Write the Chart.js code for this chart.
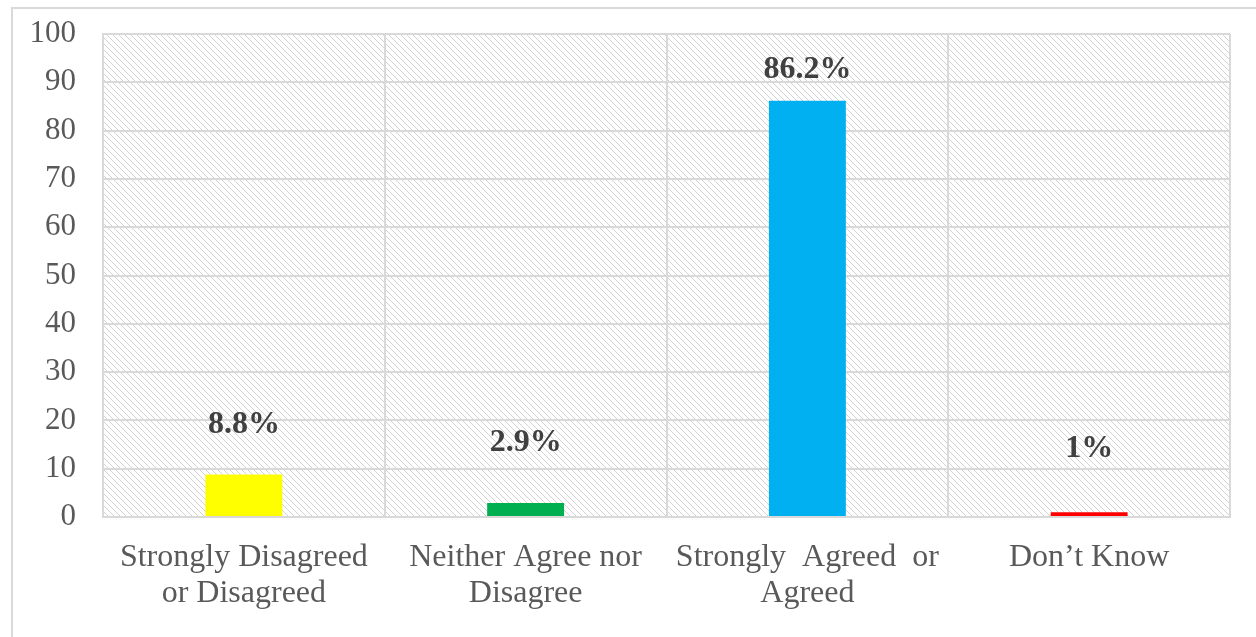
<!DOCTYPE html>
<html>
<head>
<meta charset="utf-8">
<script src="https://cdn.jsdelivr.net/npm/chart.js@4/dist/chart.umd.min.js"></script>
<style>
  html, body { margin: 0; padding: 0; background: #fff; overflow: hidden; }
  #wrap { position: relative; width: 1256px; height: 637px; }
  #frame { position: absolute; left: 11px; top: 7px; width: 1300px; height: 700px; border: 2px solid #d9d9d9; box-sizing: border-box; }
  canvas { position: absolute; left: 0; top: 0; }
</style>
</head>
<body>
<div id="wrap">
  <div id="frame"></div>
  <canvas id="c" width="1256" height="637"></canvas>
</div>
<script>
const categories = [
  ['Strongly Disagreed', 'or Disagreed'],
  ['Neither Agree nor', 'Disagree'],
  ['Strongly  Agreed  or', 'Agreed'],
  ["Don\u2019t Know"]
];
const values = [8.8, 2.9, 86.2, 1];
const valueLabels = ['8.8%', '2.9%', '86.2%', '1%'];
const labelLevels = [19.1, 15.3, 92.6, 14.1];
const barColors = ['#FFFF00', '#00B050', '#00B0F0', '#FF0000'];
const yTicks = [0, 10, 20, 30, 40, 50, 60, 70, 80, 90, 100];

const SERIF = '"Liberation Serif", "Times New Roman", serif';

function makeHatch(ctx) {
  const p = document.createElement('canvas');
  p.width = 6; p.height = 6;
  const g = p.getContext('2d');
  g.fillStyle = '#ffffff';
  g.fillRect(0, 0, 6, 6);
  g.fillStyle = '#d2d2d2';
  for (let i = 0; i < 6; i++) {
    g.fillRect(i, i, 1, 1);
  }
  return ctx.createPattern(p, 'repeat');
}

const hatchPlugin = {
  id: 'hatchBg',
  beforeDraw(chart) {
    const { ctx, chartArea: a } = chart;
    ctx.save();
    ctx.fillStyle = makeHatch(ctx);
    ctx.fillRect(a.left, a.top, a.right - a.left, a.bottom - a.top);
    ctx.restore();
  }
};

const labelPlugin = {
  id: 'valueLabels',
  afterDatasetsDraw(chart) {
    const { ctx } = chart;
    const meta = chart.getDatasetMeta(0);
    const y = chart.scales.y;
    ctx.save();
    ctx.font = 'bold 32px ' + SERIF;
    ctx.fillStyle = '#404040';
    ctx.textAlign = 'center';
    ctx.textBaseline = 'middle';
    meta.data.forEach((bar, i) => {
      ctx.fillText(valueLabels[i], bar.x, y.getPixelForValue(labelLevels[i]));
    });
    ctx.restore();
  }
};

new Chart(document.getElementById('c'), {
  type: 'bar',
  data: {
    labels: categories,
    datasets: [{
      data: values,
      backgroundColor: barColors,
      borderWidth: 0,
      categoryPercentage: 1,
      barPercentage: 0.273
    }]
  },
  options: {
    responsive: false,
    animation: false,
    events: [],
    layout: { padding: { left: 0, right: 26, top: 34, bottom: 0 } },
    plugins: { legend: { display: false }, tooltip: { enabled: false } },
    scales: {
      x: {
        grid: { color: '#d9d9d9', lineWidth: 2, drawTicks: false, offset: true },
        border: { color: '#d9d9d9', width: 2 },
        ticks: {
          color: '#595959',
          font: { family: SERIF, size: 32, lineHeight: 1.125 },
          padding: 23,
          maxRotation: 0,
          autoSkip: false
        },
        afterFit(s) { s.height = 120; s.paddingLeft = 0; s.paddingRight = 0; }
      },
      y: {
        min: 0,
        max: 100,
        afterBuildTicks(s) { s.ticks = yTicks.map(v => ({ value: v })); },
        grid: { color: '#d9d9d9', lineWidth: 2, drawTicks: false },
        border: { color: '#d9d9d9', width: 2 },
        ticks: {
          color: '#595959',
          font: { family: SERIF, size: 31 },
          padding: 27
        },
        afterFit(s) { s.width = 103; s.paddingTop = 0; s.paddingBottom = 0; }
      }
    }
  },
  plugins: [hatchPlugin, labelPlugin]
});
</script>
</body>
</html>
